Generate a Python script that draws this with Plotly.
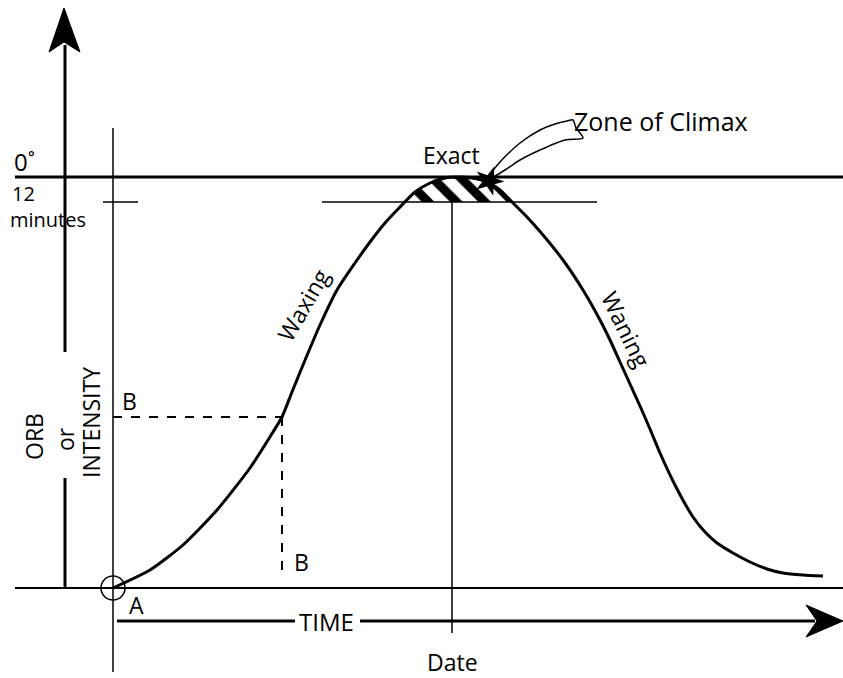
import plotly.graph_objects as go

# Diagram coordinates (x: time position, y: screen-like depth, 0 at top)
curve_x = [113, 150, 183, 217, 250, 273, 282, 292, 303, 320, 337, 355, 370, 385, 400, 415, 430,
           445, 458, 472, 487, 500, 512, 527, 543, 563, 583, 600, 610, 620, 630, 640, 650, 660,
           676, 693, 705, 717, 733, 750, 767, 783, 803, 823]
curve_y = [588, 570, 545, 510, 468, 432, 417, 392, 365, 325, 290, 263, 242, 223, 207, 192, 183,
           178, 177, 178, 182, 190, 202, 217, 235, 260, 290, 320, 340, 362, 384, 406, 429, 453,
           487, 517, 532, 543, 553, 562, 569, 573, 575, 576]

zone_x = [404, 415, 430, 445, 458, 472, 487, 500, 512]
zone_y = [202, 192, 183, 178, 177, 178, 182, 190, 202]

callout_x = [487, 500, 520, 540, 555, 567, 573, 576, 583, 565, 540, 520, 505, 492]
callout_y = [178, 162, 143, 130, 124, 121, 120, 128, 138, 140, 150, 160, 170, 178]

up_arrow_x = [64, 49, 64, 80, 64]
up_arrow_y = [8, 52, 42, 52, 8]
right_arrow_x = [843, 806, 817, 806, 843]
right_arrow_y = [621, 605, 621, 637, 621]

FONT = "Open Sans"
BLK = "black"

fig = go.Figure()

def seg(xs, ys, w=1.5, dash=None):
    fig.add_trace(go.Scatter(x=xs, y=ys, mode="lines", hoverinfo="skip",
                             line=dict(color=BLK, width=w, dash=dash)))

# hatched climax zone
fig.add_trace(go.Scatter(x=zone_x, y=zone_y, mode="lines", fill="toself", hoverinfo="skip",
                         line=dict(color=BLK, width=0.5),
                         fillcolor="white",
                         fillpattern=dict(shape="\\", size=20, solidity=0.45, fillmode="replace",
                                          fgcolor=BLK, fgopacity=1, bgcolor="white")))

# axes lines
seg([15, 843], [177, 177], 3)          # 0 degree line
seg([15, 843], [588, 588], 2)          # base line
seg([113, 113], [128, 672], 1.5)       # vertical at A
seg([103, 138], [202, 202], 1.5)       # 12 minutes tick
seg([322, 597], [202, 202], 1.5)       # 12 minutes line near peak
seg([452, 452], [202, 633], 1.5)       # date line
seg([65, 65], [45, 352], 3)            # left vertical arrow (upper)
seg([65, 65], [478, 588], 3)           # left vertical arrow (lower)
seg([117, 295], [621, 621], 3)         # time arrow part 1
seg([360, 815], [621, 621], 3)         # time arrow part 2

# dashed B lines
seg([113, 282], [417, 417], 2, "dash")
seg([282, 282], [417, 578], 2, "dash")

# arrowheads
for ax_, ay_ in [(up_arrow_x, up_arrow_y), (right_arrow_x, right_arrow_y)]:
    fig.add_trace(go.Scatter(x=ax_, y=ay_, mode="lines", fill="toself", fillcolor=BLK,
                             line=dict(color=BLK, width=1), hoverinfo="skip"))

# main curve
fig.add_trace(go.Scatter(x=curve_x, y=curve_y, mode="lines", hoverinfo="skip",
                         line=dict(color=BLK, width=3, shape="spline", smoothing=0.6)))

# callout ribbon
fig.add_trace(go.Scatter(x=callout_x, y=callout_y, mode="lines", hoverinfo="skip",
                         line=dict(color=BLK, width=1.5, shape="spline", smoothing=0.8)))
fig.add_trace(go.Scatter(x=[489], y=[181], mode="markers", hoverinfo="skip",
                         marker=dict(symbol="star", size=22, color=BLK, angle=20)))

# origin circle
fig.add_trace(go.Scatter(x=[113], y=[588], mode="markers", hoverinfo="skip",
                         marker=dict(symbol="circle-open", size=24, color=BLK,
                                     line=dict(width=1.5, color=BLK))))

def txt(x, y, s, size=24, angle=0, xanchor="center"):
    fig.add_annotation(x=x, y=y, text=s, showarrow=False, textangle=angle,
                       xanchor=xanchor, yanchor="middle",
                       font=dict(family=FONT, size=size, color=BLK))

txt(12, 161, "0˚", xanchor="left")
txt(10, 193, "12", size=20, xanchor="left")
txt(8, 219, "minutes", size=20, xanchor="left")
txt(451, 155, "Exact", size=23)
txt(572, 121, "Zone of Climax", size=25, xanchor="left")
txt(303, 305, "Waxing", size=23, angle=-60)
txt(626, 329, "Waning", size=23, angle=64)
txt(129, 401, "B", size=23)
txt(301, 562, "B", size=23)
txt(136, 605, "A", size=23)
txt(326, 621, "TIME")
txt(452, 662, "Date", size=23)
txt(34, 437, "ORB", size=23, angle=-90)
txt(65, 439, "or", size=23, angle=-90)
txt(91, 423, "INTENSITY", size=23, angle=-90)

fig.update_layout(
    width=843, height=678, showlegend=False,
    margin=dict(l=0, r=0, t=0, b=0),
    paper_bgcolor="white", plot_bgcolor="white",
    xaxis=dict(range=[0, 843], visible=False, fixedrange=True),
    yaxis=dict(range=[678, 0], visible=False, fixedrange=True),
)
fig.write_html("out.html", config={"displayModeBar": False},
               post_script="document.body.style.margin='0';document.body.style.overflow='hidden';")
